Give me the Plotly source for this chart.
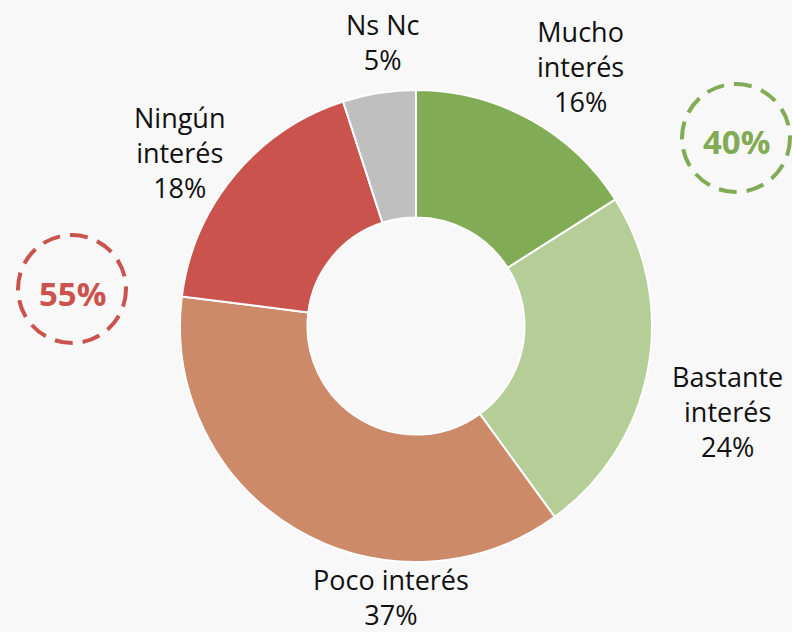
import plotly.graph_objects as go

labels = ["Mucho interés", "Bastante interés", "Poco interés", "Ningún interés", "Ns Nc"]
values = [16, 24, 37, 18, 5]
colors = ["#82AB55", "#B5CE97", "#CD8A68", "#CB534E", "#BFBFBF"]
label_texts = ["Mucho<br>interés<br>16%", "Bastante<br>interés<br>24%", "Poco interés<br>37%",
               "Ningún<br>interés<br>18%", "Ns Nc<br>5%"]
label_pos = [(580, 66), (727, 411), (391, 597), (179, 153), (383, 42)]
group_texts = ["40%", "55%"]
group_colors = ["#82AB55", "#CB534E"]
group_pos = [(736, 138), (72, 289)]

W, H = 792, 632
cx, cy, R = 416, 326, 236

fig = go.Figure(go.Pie(
    labels=labels, values=values, sort=False, direction="clockwise", rotation=0,
    hole=0.46, marker=dict(colors=colors, line=dict(color="white", width=2)),
    textinfo="none", hoverinfo="label+percent",
    domain=dict(x=[(cx - R) / W, (cx + R) / W], y=[1 - (cy + R) / H, 1 - (cy - R) / H]),
    showlegend=False,
))

for t, (px, py) in zip(label_texts, label_pos):
    fig.add_annotation(x=px / W, y=1 - py / H, xref="paper", yref="paper", text=t,
                       showarrow=False, font=dict(family="Open Sans", size=27, color="#111111"),
                       xanchor="center", yanchor="middle", align="center", borderpad=0)

r = 54
for t, c, (px, py) in zip(group_texts, group_colors, group_pos):
    fig.add_shape(type="circle", xref="paper", yref="paper",
                  x0=(px - r) / W, x1=(px + r) / W, y0=1 - (py + r) / H, y1=1 - (py - r) / H,
                  line=dict(color=c, width=4, dash="18px,10px"))
    fig.add_annotation(x=px / W, y=1 - (py + 4) / H, xref="paper", yref="paper", text="<b>" + t + "</b>",
                       showarrow=False, font=dict(family="Open Sans", size=33, color=c),
                       xanchor="center", yanchor="middle")

fig.update_layout(width=W, height=H, margin=dict(l=0, r=0, t=0, b=0),
                  paper_bgcolor="#F8F8F8", plot_bgcolor="#F8F8F8")
fig.write_html("out.html", config={"displayModeBar": False},
               post_script="document.body.style.margin='0';document.body.style.overflow='hidden';document.body.style.background='#F8F8F8';")
